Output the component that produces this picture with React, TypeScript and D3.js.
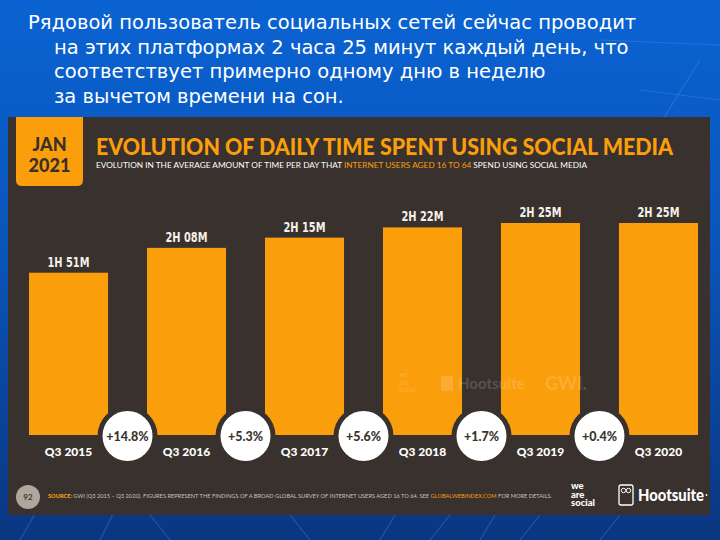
import React from "react";
import * as d3 from "d3";

const headingLines = [
  "Рядовой пользователь социальных сетей сейчас проводит",
  "на этих платформах 2 часа 25 минут каждый день, что",
  "соответствует примерно одному дню в неделю",
  "за вычетом времени на сон.",
];
const categories = ["Q3 2015", "Q3 2016", "Q3 2017", "Q3 2018", "Q3 2019", "Q3 2020"];
const minutes = [111, 128, 135, 142, 145, 145];
const valueLabels = ["1H 51M", "2H 08M", "2H 15M", "2H 22M", "2H 25M", "2H 25M"];
const changes = ["+14.8%", "+5.3%", "+5.6%", "+1.7%", "+0.4%"];
const title = "EVOLUTION OF DAILY TIME SPENT USING SOCIAL MEDIA";
const subtitleParts = [
  "EVOLUTION IN THE AVERAGE AMOUNT OF TIME PER DAY THAT ",
  "INTERNET USERS AGED 16 TO 64",
  " SPEND USING SOCIAL MEDIA",
];
const sourceParts = [
  "SOURCE: ",
  "GWI (Q3 2015 – Q3 2020). FIGURES REPRESENT THE FINDINGS OF A BROAD GLOBAL SURVEY OF INTERNET USERS AGED 16 TO 64. SEE ",
  "GLOBALWEBINDEX.COM",
  " FOR MORE DETAILS.",
];
const logoWords = ["we", "are", "social"];

const ORANGE = "#fb9e0c";
const PANEL = "#38312d";

export default function App() {
  const W = 720;
  const H = 540;
  const x = d3.scaleBand<string>().domain(categories).range([29, 698]).paddingInner(0.33).paddingOuter(0);
  const y = d3.scaleLinear().domain([0, 145]).range([435, 223]);
  const bw = x.bandwidth();
  const gap = x.step() - bw;

  const bgLines = [
    [20, 540, 60, 470],
    [100, 540, 120, 500],
    [150, 515, 170, 540],
    [290, 515, 310, 540],
    [380, 540, 395, 515],
    [430, 540, 450, 515],
    [480, 540, 495, 515],
    [520, 540, 540, 515],
    [600, 540, 620, 515],
    [650, 140, 700, 60],
    [600, 40, 720, 45],
    [640, 90, 720, 100],
  ];

  return (
    <svg
      width={W}
      height={H}
      viewBox={`0 0 ${W} ${H}`}
      style={{ position: "absolute", left: 0, top: 0, display: "block" }}
    >
      <defs>
        <linearGradient id="bg" x1="0" y1="0" x2="0" y2="1">
          <stop offset="0" stopColor="#0a63d2" />
          <stop offset="0.45" stopColor="#0a55bb" />
          <stop offset="1" stopColor="#0a3680" />
        </linearGradient>
      </defs>
      <rect x={0} y={0} width={W} height={H} fill="url(#bg)" />
      {bgLines.map((l, i) => (
        <line key={i} x1={l[0]} y1={l[1]} x2={l[2]} y2={l[3]} stroke="#5a8fe0" strokeOpacity={0.35} strokeWidth={1.2} />
      ))}

      {/* Heading text */}
      <g fontFamily="'DejaVu Sans', sans-serif" fontSize={19.5} fill="#ffffff">
        {headingLines.map((t, i) => (
          <text key={i} x={i === 0 ? 28 : 54} y={29 + i * 24.5}>
            {t}
          </text>
        ))}
      </g>

      {/* Panel */}
      <rect x={8} y={117} width={702} height={398} fill={PANEL} />

      {/* JAN 2021 badge */}
      <path d="M16,117 H83 V180 Q83,186 77,186 H22 Q16,186 16,180 Z" fill={ORANGE} />
      <g fontFamily="Lato, 'Open Sans', sans-serif" fontWeight={900} fill="#3a3026" textAnchor="middle">
        <text x={49.5} y={150.5} fontSize={18}>JAN</text>
        <text x={49.5} y={172} fontSize={18}>2021</text>
      </g>

      {/* Title */}
      <text
        x={96}
        y={155}
        fontFamily="Lato, 'Open Sans', sans-serif"
        fontWeight={900}
        fontSize={23}
        fill={ORANGE}
        textLength={577}
        lengthAdjust="spacingAndGlyphs"
      >
        {title}
      </text>
      <text
        x={96}
        y={168}
        fontFamily="Lato, 'Open Sans', sans-serif"
        fontSize={7.2}
        fill="#ffffff"
        textLength={491}
        lengthAdjust="spacingAndGlyphs"
      >
        <tspan>{subtitleParts[0]}</tspan>
        <tspan fill={ORANGE}>{subtitleParts[1]}</tspan>
        <tspan>{subtitleParts[2]}</tspan>
      </text>

      {/* Bars */}
      {categories.map((c, i) => (
        <rect key={c} x={x(c)} y={y(minutes[i])} width={bw} height={y(0) - y(minutes[i])} fill={ORANGE} />
      ))}

      {/* Watermark */}
      <g fill="#ffffff" fillOpacity={0.16} fontFamily="Lato, sans-serif" fontWeight={900}>
        <text x={399} y={377} fontSize={6.5}>
          {logoWords.map((w, i) => (
            <tspan key={w} x={399} dy={i === 0 ? 0 : 7.5}>{w}</tspan>
          ))}
        </text>
        <rect x={441} y={376} width={12} height={15} rx={2} />
        <text x={458} y={389} fontSize={15}>Hootsuite</text>
        <text x={545} y={390} fontSize={18}>GWI.</text>
      </g>

      {/* Value labels */}
      <g
        fontFamily="'DejaVu Sans Condensed', 'Liberation Sans Narrow', sans-serif"
        fontWeight={700}
        fontSize={14}
        fill="#f4f0ea"
        textAnchor="middle"
      >
        {categories.map((c, i) => (
          <text key={c} x={(x(c) as number) + bw / 2} y={y(minutes[i]) - 6} textLength={42} lengthAdjust="spacingAndGlyphs">
            {valueLabels[i]}
          </text>
        ))}
      </g>

      {/* Category labels */}
      <g fontFamily="Lato, sans-serif" fontWeight={900} fontSize={12} fill="#ffffff" textAnchor="middle">
        {categories.map((c) => (
          <text key={c} x={(x(c) as number) + bw / 2} y={455.5}>
            {c}
          </text>
        ))}
      </g>

      {/* Change circles */}
      {changes.map((ch, i) => {
        const cx = (x(categories[i]) as number) + bw + gap / 2;
        return (
          <g key={ch + i}>
            <circle cx={cx} cy={436} r={27.5} fill="#ffffff" stroke={PANEL} strokeWidth={5} />
            <text
              x={cx}
              y={440.5}
              textAnchor="middle"
              fontFamily="Lato, sans-serif"
              fontWeight={900}
              fontSize={12.5}
              fill="#3a3430"
            >
              {ch}
            </text>
          </g>
        );
      })}

      {/* Footer */}
      <circle cx={28} cy={497} r={12} fill="#b0a69c" />
      <text x={28} y={500} textAnchor="middle" fontFamily="Lato, sans-serif" fontWeight={700} fontSize={8} fill="#3a3430">
        92
      </text>
      <text
        x={48}
        y={498}
        fontFamily="Lato, sans-serif"
        fontSize={5.6}
        fill="#c9c3bc"
        textLength={504}
        lengthAdjust="spacingAndGlyphs"
      >
        <tspan fill={ORANGE} fontWeight={900}>{sourceParts[0]}</tspan>
        <tspan>{sourceParts[1]}</tspan>
        <tspan fill={ORANGE}>{sourceParts[2]}</tspan>
        <tspan>{sourceParts[3]}</tspan>
      </text>

      {/* Logos */}
      <g fill="#ffffff" fontFamily="Lato, sans-serif" fontWeight={900}>
        <text x={571} y={489} fontSize={9.5}>
          {logoWords.map((w, i) => (
            <tspan key={w} x={571} dy={i === 0 ? 0 : 8.5}>{w}</tspan>
          ))}
        </text>
        <rect x={619} y={485} width={14} height={20} rx={2} fill="none" stroke="#ffffff" strokeWidth={1.3} />
        <circle cx={623.5} cy={490.5} r={2.2} fill="none" stroke="#ffffff" strokeWidth={1} />
        <circle cx={628.5} cy={490.5} r={2.2} fill="none" stroke="#ffffff" strokeWidth={1} />
        <text x={638} y={501} fontSize={16.5} textLength={66} lengthAdjust="spacingAndGlyphs">Hootsuite</text>
        <circle cx={706.5} cy={495} r={0.9} />
      </g>
    </svg>
  );
}
